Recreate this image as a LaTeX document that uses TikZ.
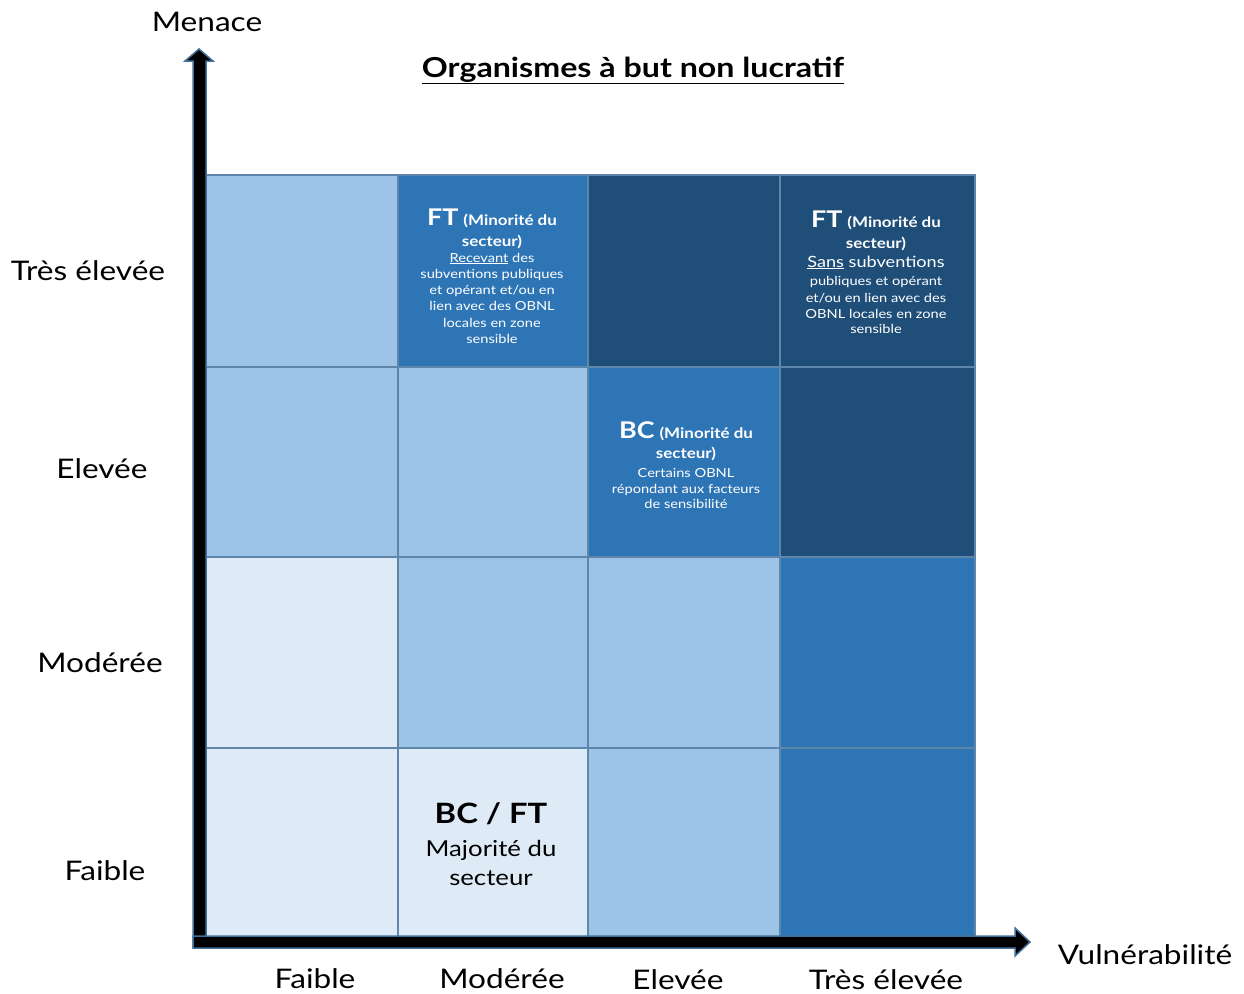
\documentclass[tikz,border=0pt]{standalone}
\usepackage{fontspec}
\setmainfont{Lato}[FakeStretch=1.17]
\definecolor{vlight}{HTML}{DEEBF7}
\definecolor{lightb}{HTML}{9DC3E6}
\definecolor{medb}{HTML}{2E75B6}
\definecolor{darkb}{HTML}{1F4E79}
\definecolor{edgeb}{HTML}{41719C}
\newcommand{\fs}[1]{\fontsize{#1}{#1}\selectfont}
\begin{document}
\begin{tikzpicture}[x=1pt,y=-1pt,
  cell/.style={draw=edgeb!85!white, line width=2pt, inner sep=0pt, outer sep=0pt},
  colA/.style={minimum width=193pt},
  colB/.style={minimum width=190pt},
  colC/.style={minimum width=192pt},
  colD/.style={minimum width=195pt},
  rowA/.style={minimum height=192pt},
  rowB/.style={minimum height=190pt},
  rowC/.style={minimum height=191pt},
  rowD/.style={minimum height=192pt},
  axlab/.style={font=\fs{27}, text=black, inner sep=0pt, anchor=base},
  wtxt/.style={text=white, inner sep=0pt, anchor=base},
  btxt/.style={text=black, inner sep=0pt, anchor=base},
  axarrow/.style={fill=black, draw=edgeb, line width=1.5pt, line join=miter}
]
\useasboundingbox (0,0) rectangle (1244,993);

% cells row 1 (Très élevée)
\node[cell, colA, rowA, fill=lightb] (c11) at (301.5,271) {};
\node[cell, colB, rowA, fill=medb]   (c12) at (493,271) {};
\node[cell, colC, rowA, fill=darkb]  (c13) at (684,271) {};
\node[cell, colD, rowA, fill=darkb]  (c14) at (877.5,271) {};
% row 2 (Elevée)
\node[cell, colA, rowB, fill=lightb] (c21) at (301.5,462) {};
\node[cell, colB, rowB, fill=lightb] (c22) at (493,462) {};
\node[cell, colC, rowB, fill=medb]   (c23) at (684,462) {};
\node[cell, colD, rowB, fill=darkb]  (c24) at (877.5,462) {};
% row 3 (Modérée)
\node[cell, colA, rowC, fill=vlight] (c31) at (301.5,652.5) {};
\node[cell, colB, rowC, fill=lightb] (c32) at (493,652.5) {};
\node[cell, colC, rowC, fill=lightb] (c33) at (684,652.5) {};
\node[cell, colD, rowC, fill=medb]   (c34) at (877.5,652.5) {};
% row 4 (Faible)
\node[cell, colA, rowD, fill=vlight] (c41) at (301.5,844) {};
\node[cell, colB, rowD, fill=vlight] (c42) at (493,844) {};
\node[cell, colC, rowD, fill=lightb] (c43) at (684,844) {};
\node[cell, colD, rowD, fill=medb]   (c44) at (877.5,844) {};

% axes (block arrows)
\draw[axarrow] (193,948) -- (193,61) -- (185,61) -- (199,49) -- (213,61) -- (206,61) -- (206,948) -- cycle;
\draw[axarrow] (193,936) -- (1015,936) -- (1015,928) -- (1030,942) -- (1015,956) -- (1015,948) -- (193,948) -- cycle;

% title
\node[btxt, font=\fs{27.5}\bfseries] (title) at (633,77) {\underline{Organismes à but non lucratif}};

% axis titles
\node[axlab] (menace) at (207,31) {Menace};
\node[axlab] (vuln) at (1145,964) {Vulnérabilité};

% y labels
\node[axlab] (y1) at (88,280) {Très élevée};
\node[axlab] (y2) at (102,478) {Elevée};
\node[axlab] (y3) at (100,672) {Modérée};
\node[axlab] (y4) at (105,880) {Faible};
% x labels
\node[axlab] (x1) at (315,988) {Faible};
\node[axlab] (x2) at (502,988) {Modérée};
\node[axlab] (x3) at (678,989) {Elevée};
\node[axlab] (x4) at (886,989) {Très élevée};

% cell FT (col 2, row 1)
\node[wtxt] (a1) at (492,225) {{\fs{23}\bfseries FT}\hspace{2pt} {\fs{14.5}\bfseries (Minorité du}};
\node[wtxt, font=\fs{14.5}\bfseries] (a2) at (492,246) {secteur)};
\node[wtxt, font=\fs{12.5}] (a3) at (492,262) {\underline{Recevant} des};
\node[wtxt, font=\fs{12.5}] (a4) at (492,278) {subventions publiques};
\node[wtxt, font=\fs{12.5}] (a5) at (492,294) {et opérant et/ou en};
\node[wtxt, font=\fs{12.5}] (a6) at (492,310) {lien avec des OBNL};
\node[wtxt, font=\fs{12.5}] (a7) at (492,327) {locales en zone};
\node[wtxt, font=\fs{12.5}] (a8) at (492,343) {sensible};

% cell FT (col 4, row 1)
\node[wtxt] (b1) at (876,227) {{\fs{23}\bfseries FT}\hspace{2pt} {\fs{14.5}\bfseries (Minorité du}};
\node[wtxt, font=\fs{14.5}\bfseries] (b2) at (876,248) {secteur)};
\node[wtxt, font=\fs{15.5}] (b3) at (876,267) {\underline{Sans} subventions};
\node[wtxt, font=\fs{12.5}] (b4) at (876,285) {publiques et opérant};
\node[wtxt, font=\fs{12.5}] (b5) at (876,302) {et/ou en lien avec des};
\node[wtxt, font=\fs{12.5}] (b6) at (876,318) {OBNL locales en zone};
\node[wtxt, font=\fs{12.5}] (b7) at (876,333) {sensible};

% cell BC (col 3, row 2)
\node[wtxt] (d1) at (686,438) {{\fs{23}\bfseries BC}\hspace{2pt} {\fs{14.5}\bfseries (Minorité du}};
\node[wtxt, font=\fs{14.5}\bfseries] (d2) at (686,458) {secteur)};
\node[wtxt, font=\fs{12.5}] (d3) at (686,477) {Certains OBNL};
\node[wtxt, font=\fs{12.5}] (d4) at (686,493) {répondant aux facteurs};
\node[wtxt, font=\fs{12.5}] (d5) at (686,508) {de sensibilité};

% cell BC / FT (col 2, row 4)
\node[btxt, font=\fs{28}\bfseries] (e1) at (491,823) {BC / FT};
\node[btxt, font=\fs{22}] (e2) at (491,856) {Majorité du};
\node[btxt, font=\fs{22}] (e3) at (491,885) {secteur};
\end{tikzpicture}
\end{document}
